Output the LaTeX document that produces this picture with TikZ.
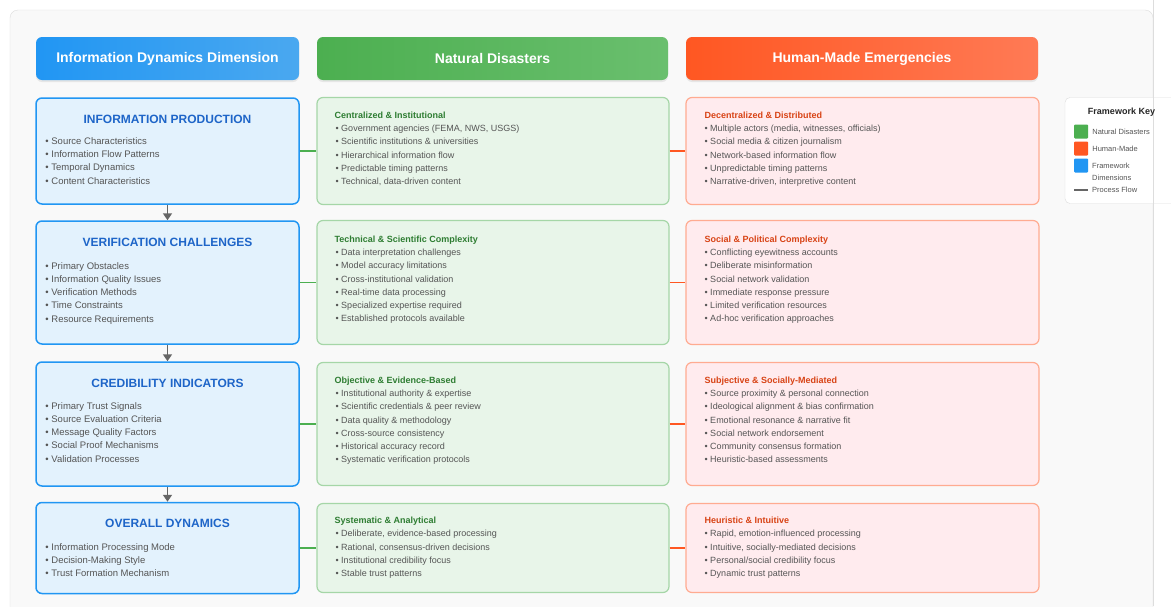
\documentclass[tikz,border=0pt]{standalone}
\usepackage{fontspec}
\setmainfont{Liberation Sans}
\usetikzlibrary{arrows.meta,shadows,positioning}
\definecolor{pagebg}{HTML}{F9F9F9}
\definecolor{pageline}{HTML}{DDDDDD}
\definecolor{dimblue}{HTML}{2196F3}
\definecolor{dimblue2}{HTML}{4AA8F0}
\definecolor{dimfill}{HTML}{E3F2FD}
\definecolor{dimtext}{HTML}{1E65C8}
\definecolor{natgreen}{HTML}{4CAF50}
\definecolor{natgreen2}{HTML}{6ABF6E}
\definecolor{natfill}{HTML}{E8F5E9}
\definecolor{natline}{HTML}{A5D6A7}
\definecolor{natdark}{HTML}{2E7D32}
\definecolor{humorange}{HTML}{FF5722}
\definecolor{humorange2}{HTML}{FF7A55}
\definecolor{humfill}{HTML}{FFEBEE}
\definecolor{humline}{HTML}{FFAB91}
\definecolor{humdark}{HTML}{D84315}
\definecolor{itemgray}{HTML}{555555}
\definecolor{flowgray}{HTML}{666666}

\begin{document}
\begin{tikzpicture}[x=1pt,y=-1pt,
    head/.style={rounded corners=6pt, minimum height=43pt, text=white,
      font=\bfseries\fontsize{14}{16}\selectfont,
      drop shadow={shadow xshift=0pt,shadow yshift=-2pt,opacity=0.15}},
    dimbox/.style={draw=dimblue, line width=1.5pt, fill=dimfill,
      rounded corners=6pt, minimum width=263pt},
    natbox/.style={draw=natline, line width=1.2pt, fill=natfill,
      rounded corners=6pt, minimum width=352pt},
    humbox/.style={draw=humline, line width=1.2pt, fill=humfill,
      rounded corners=6pt, minimum width=353pt},
    dimtitle/.style={text=dimtext, font=\bfseries\fontsize{12}{14}\selectfont},
    dimitem/.style={anchor=west, inner sep=0pt, text=itemgray,
      text height=7.5pt, text depth=2pt, font=\fontsize{9.5}{11}\selectfont},
    natsub/.style={anchor=west, inner sep=0pt, text=natdark,
      text height=7pt, text depth=2pt, font=\bfseries\fontsize{9}{11}\selectfont},
    humsub/.style={natsub, text=humdark},
    item/.style={anchor=west, inner sep=0pt, text=itemgray,
      text height=7pt, text depth=2pt, font=\fontsize{9}{11}\selectfont},
    natlink/.style={draw=natgreen, line width=1.5pt},
    humlink/.style={draw=humorange, line width=1.5pt},
    flow/.style={draw=flowgray, line width=1.5pt, -{Triangle[length=7pt,width=9pt]}},
    keyswatch/.style={minimum size=14pt, inner sep=0pt, rounded corners=1pt},
    keytext/.style={anchor=west, inner sep=0pt, text=itemgray,
      font=\fontsize{7.5}{12}\selectfont, align=left}]
  \useasboundingbox (0,0) rectangle (1171,606) ;
  \fill[white] (0,0) rectangle (1171,606) ;
  \draw[pageline, fill=pagebg, rounded corners=8pt] (10,10) rectangle (1153,640) ;

  % column heads
  \node[head, minimum width=263pt, left color=dimblue, right color=dimblue2] %
  (hdim) at (167.5,58.5) {Information Dynamics Dimension} ;
  \node[head, minimum width=351pt, left color=natgreen, right color=natgreen2] %
  (hnat) at (492.5,58.5) {Natural Disasters} ;
  \node[head, minimum width=352pt, left color=humorange, right color=humorange2] %
  (hhum) at (862,58.5) {Human-Made Emergencies} ;

  % row 1
  \node[dimbox, minimum height=106pt] (prod) at (167.5,151) {} ;
  \node[dimtitle] (prod-t) at ([yshift=-22pt]prod.north) {INFORMATION PRODUCTION} ;
  \foreach \t [count=\i] in {Source Characteristics, Information Flow Patterns,
      Temporal Dynamics, Content Characteristics}
    \node[dimitem] (prod-\i) at ([xshift=10pt,yshift={-31pt-13.3pt*\i}]prod.north west) {• \t} ;
  \node[natbox, minimum height=107pt] (natprod) at (493,151) {} ;
  \node[natsub] (natprod-t) at ([xshift=18pt,yshift=-19pt]natprod.north west) {Centralized \& Institutional} ;
  \foreach \t [count=\i] in {{Government agencies (FEMA, NWS, USGS)},
      Scientific institutions \& universities, Hierarchical information flow,
      Predictable timing patterns, {Technical, data-driven content}}
    \node[item] (natprod-\i) at ([xshift=19pt,yshift={-18.7pt-13.3pt*\i}]natprod.north west) {• \t} ;
  \node[humbox, minimum height=107pt] (humprod) at (862.5,151) {} ;
  \node[humsub] (humprod-t) at ([xshift=19pt,yshift=-19pt]humprod.north west) {Decentralized \& Distributed} ;
  \foreach \t [count=\i] in {{Multiple actors (media, witnesses, officials)},
      Social media \& citizen journalism, Network-based information flow,
      Unpredictable timing patterns, {Narrative-driven, interpretive content}}
    \node[item] (humprod-\i) at ([xshift=19pt,yshift={-18.7pt-13.3pt*\i}]humprod.north west) {• \t} ;

  % row 2
  \node[dimbox, minimum height=123pt] (verif) at (167.5,282.5) {} ;
  \node[dimtitle] (verif-t) at ([yshift=-22pt]verif.north) {VERIFICATION CHALLENGES} ;
  \foreach \t [count=\i] in {Primary Obstacles, Information Quality Issues,
      Verification Methods, Time Constraints, Resource Requirements}
    \node[dimitem] (verif-\i) at ([xshift=10pt,yshift={-32.7pt-13.3pt*\i}]verif.north west) {• \t} ;
  \node[natbox, minimum height=124pt] (natverif) at (493,282.5) {} ;
  \node[natsub] (natverif-t) at ([xshift=18pt,yshift=-20pt]natverif.north west) {Technical \& Scientific Complexity} ;
  \foreach \t [count=\i] in {Data interpretation challenges, Model accuracy limitations,
      Cross-institutional validation, Real-time data processing,
      Specialized expertise required, Established protocols available}
    \node[item] (natverif-\i) at ([xshift=19pt,yshift={-19.7pt-13.3pt*\i}]natverif.north west) {• \t} ;
  \node[humbox, minimum height=124pt] (humverif) at (862.5,282.5) {} ;
  \node[humsub] (humverif-t) at ([xshift=19pt,yshift=-20pt]humverif.north west) {Social \& Political Complexity} ;
  \foreach \t [count=\i] in {Conflicting eyewitness accounts, Deliberate misinformation,
      Social network validation, Immediate response pressure,
      Limited verification resources, Ad-hoc verification approaches}
    \node[item] (humverif-\i) at ([xshift=19pt,yshift={-19.7pt-13.3pt*\i}]humverif.north west) {• \t} ;

  % row 3
  \node[dimbox, minimum height=124pt] (cred) at (167.5,424) {} ;
  \node[dimtitle] (cred-t) at ([yshift=-22pt]cred.north) {CREDIBILITY INDICATORS} ;
  \foreach \t [count=\i] in {Primary Trust Signals, Source Evaluation Criteria,
      Message Quality Factors, Social Proof Mechanisms, Validation Processes}
    \node[dimitem] (cred-\i) at ([xshift=10pt,yshift={-31.7pt-13.3pt*\i}]cred.north west) {• \t} ;
  \node[natbox, minimum height=123pt] (natcred) at (493,424) {} ;
  \node[natsub] (natcred-t) at ([xshift=18pt,yshift=-19pt]natcred.north west) {Objective \& Evidence-Based} ;
  \foreach \t [count=\i] in {Institutional authority \& expertise,
      Scientific credentials \& peer review, Data quality \& methodology,
      Cross-source consistency, Historical accuracy record,
      Systematic verification protocols}
    \node[item] (natcred-\i) at ([xshift=19pt,yshift={-18.7pt-13.3pt*\i}]natcred.north west) {• \t} ;
  \node[humbox, minimum height=123pt] (humcred) at (862.5,424) {} ;
  \node[humsub] (humcred-t) at ([xshift=19pt,yshift=-19pt]humcred.north west) {Subjective \& Socially-Mediated} ;
  \foreach \t [count=\i] in {Source proximity \& personal connection,
      Ideological alignment \& bias confirmation, Emotional resonance \& narrative fit,
      Social network endorsement, Community consensus formation,
      Heuristic-based assessments}
    \node[item] (humcred-\i) at ([xshift=19pt,yshift={-18.7pt-13.3pt*\i}]humcred.north west) {• \t} ;

  % row 4
  \node[dimbox, minimum height=91pt] (over) at (167.5,548) {} ;
  \node[dimtitle] (over-t) at ([yshift=-22pt]over.north) {OVERALL DYNAMICS} ;
  \foreach \t [count=\i] in {Information Processing Mode, Decision-Making Style,
      Trust Formation Mechanism}
    \node[dimitem] (over-\i) at ([xshift=10pt,yshift={-32.2pt-13.3pt*\i}]over.north west) {• \t} ;
  \node[natbox, minimum height=89pt] (natover) at (493,548) {} ;
  \node[natsub] (natover-t) at ([xshift=18pt,yshift=-18.5pt]natover.north west) {Systematic \& Analytical} ;
  \foreach \t [count=\i] in {{Deliberate, evidence-based processing},
      {Rational, consensus-driven decisions}, Institutional credibility focus,
      Stable trust patterns}
    \node[item] (natover-\i) at ([xshift=19pt,yshift={-18.2pt-13.3pt*\i}]natover.north west) {• \t} ;
  \node[humbox, minimum height=89pt] (humover) at (862.5,548) {} ;
  \node[humsub] (humover-t) at ([xshift=19pt,yshift=-18.5pt]humover.north west) {Heuristic \& Intuitive} ;
  \foreach \t [count=\i] in {{Rapid, emotion-influenced processing},
      {Intuitive, socially-mediated decisions}, Personal/social credibility focus,
      Dynamic trust patterns}
    \node[item] (humover-\i) at ([xshift=19pt,yshift={-18.2pt-13.3pt*\i}]humover.north west) {• \t} ;

  % links
  \draw[natlink] (prod) -- (natprod) ;
  \draw[humlink] (natprod) -- (humprod) ;
  \draw[natlink] (verif) -- (natverif) ;
  \draw[humlink] (natverif) -- (humverif) ;
  \draw[natlink] (cred) -- (natcred) ;
  \draw[humlink] (natcred) -- (humcred) ;
  \draw[natlink] (over) -- (natover) ;
  \draw[humlink] (natover) -- (humover) ;
  \draw[flow] (prod) -- (verif) ;
  \draw[flow] (verif) -- (cred) ;
  \draw[flow] (cred) -- (over) ;

  % key
  \node[draw=pageline, fill=white, rounded corners=5pt, minimum width=112pt, %
  minimum height=106pt] (key) at (1121,150.5) {} ;
  \draw[pageline] (1153,0) -- (1153,606) ;
  \node[font=\bfseries\fontsize{9}{11}\selectfont, text=black!85] %
  (key-t) at (1121.5,112) {Framework Key} ;
  \node[keyswatch, fill=natgreen] (keynat) at (1081,131.5) {} ;
  \node[keytext, right=4pt of keynat] (keynat-t) {Natural Disasters} ;
  \node[keyswatch, fill=humorange] (keyhum) at (1081,148.5) {} ;
  \node[keytext, right=4pt of keyhum] (keyhum-t) {Human-Made} ;
  \node[keyswatch, fill=dimblue] (keydim) at (1081,165.5) {} ;
  \node[keytext] (keydim-t) at (1092,171.5) {Framework\\Dimensions} ;
  \coordinate (keyflow1) at (1074,190) ;
  \coordinate (keyflow2) at (1088,190) ;
  \draw[flowgray, line width=1.5pt] (keyflow1) -- (keyflow2) ;
  \node[keytext] (keyflow-t) at (1092,190) {Process Flow} ;
\end{tikzpicture}
\end{document}
